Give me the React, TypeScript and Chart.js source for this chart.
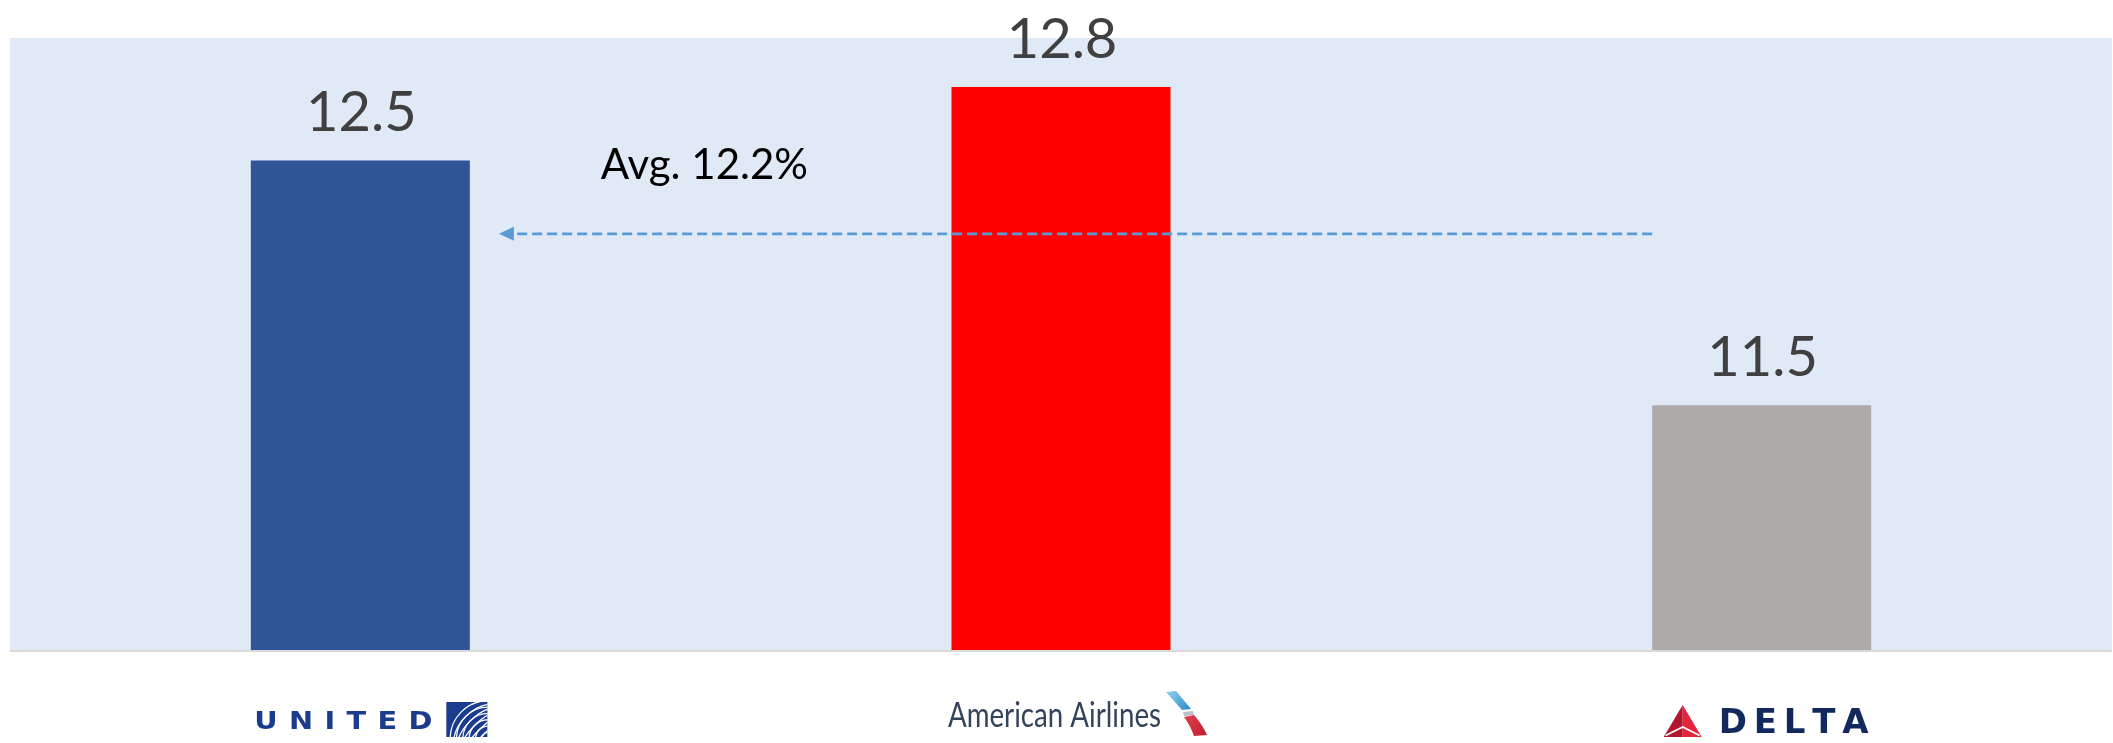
import { useEffect, useRef } from "react";
import { Chart, registerables } from "chart.js";

Chart.register(...registerables);

// Carrier figures
const carriers = ["UNITED", "American Airlines", "DELTA"];
const values = [12.5, 12.8, 11.5];
const barColors = ["#2f5597", "#ff0000", "#aeaaaa"];
const averageValue = 12.2;
const averageLabel = "Avg. 12.2%";
const yMin = 10.5;
const yMax = 13;

const WIDTH = 2113;
const HEIGHT = 743;

// Draws text with evenly distributed letter gaps so it spans totalWidth;
// stretch widens each glyph horizontally.
function drawSpaced(
  ctx: CanvasRenderingContext2D,
  text: string,
  left: number,
  baseline: number,
  totalWidth: number,
  stretch = 1
) {
  const chars = text.split("");
  const widths = chars.map((c) => ctx.measureText(c).width * stretch);
  const sum = widths.reduce((a, b) => a + b, 0);
  const gap = chars.length > 1 ? (totalWidth - sum) / (chars.length - 1) : 0;
  let x = left;
  ctx.textAlign = "left";
  chars.forEach((c, i) => {
    ctx.save();
    ctx.translate(x, baseline);
    ctx.scale(stretch, 1);
    ctx.fillText(c, 0, 0);
    ctx.restore();
    x += widths[i] + gap;
  });
}

function drawUnited(ctx: CanvasRenderingContext2D, cx: number) {
  ctx.save();
  ctx.fillStyle = "#1a3b8e";
  ctx.font = "bold 24px 'DejaVu Sans'";
  ctx.textBaseline = "alphabetic";
  drawSpaced(ctx, carriers[0], cx - 106, 729, 178, 1.2);

  // globe mark
  const sx = cx + 86;
  const sy = 702;
  const w = 41;
  const h = 35;
  ctx.fillRect(sx, sy, w, h);
  ctx.beginPath();
  ctx.rect(sx, sy, w, h);
  ctx.clip();
  const gx = sx + w * 1.02;
  const gy = sy + h * 1.05;
  const r = 38;
  ctx.strokeStyle = "#ffffff";
  ctx.lineWidth = 1.3;
  for (let k = 1; k <= 6; k++) {
    ctx.beginPath();
    ctx.arc(gx, gy, (r * k) / 6, Math.PI, Math.PI * 1.5);
    ctx.stroke();
  }
  for (let k = 1; k <= 5; k++) {
    ctx.beginPath();
    ctx.ellipse(gx, gy, r, (r * k) / 6, -Math.PI / 4, Math.PI, Math.PI * 2);
    ctx.stroke();
  }
  ctx.restore();
}

function drawAmerican(ctx: CanvasRenderingContext2D, cx: number) {
  ctx.save();
  ctx.fillStyle = "#33445a";
  ctx.font = "34px Lato";
  ctx.textAlign = "left";
  ctx.textBaseline = "alphabetic";
  ctx.fillText(carriers[1], cx - 113, 727, 213);

  const ix = cx + 105;
  const blue = ctx.createLinearGradient(ix, 692, ix + 25, 710);
  blue.addColorStop(0, "#8fd3f0");
  blue.addColorStop(1, "#2a86c8");
  ctx.fillStyle = blue;
  ctx.beginPath();
  ctx.moveTo(ix, 692);
  ctx.lineTo(ix + 10, 691);
  ctx.lineTo(ix + 25, 709);
  ctx.lineTo(ix + 16, 710);
  ctx.closePath();
  ctx.fill();

  ctx.fillStyle = "#b9c0c8";
  ctx.beginPath();
  ctx.moveTo(ix + 17, 712);
  ctx.lineTo(ix + 27, 711);
  ctx.lineTo(ix + 28, 715);
  ctx.lineTo(ix + 18, 716);
  ctx.closePath();
  ctx.fill();

  const red = ctx.createLinearGradient(ix + 18, 716, ix + 40, 735);
  red.addColorStop(0, "#e0414f");
  red.addColorStop(1, "#c41d2f");
  ctx.fillStyle = red;
  ctx.beginPath();
  ctx.moveTo(ix + 18, 717);
  ctx.lineTo(ix + 28, 715);
  ctx.quadraticCurveTo(ix + 36, 724, ix + 41, 735);
  ctx.lineTo(ix + 28, 736);
  ctx.quadraticCurveTo(ix + 24, 725, ix + 18, 717);
  ctx.closePath();
  ctx.fill();
  ctx.restore();
}

function drawDelta(ctx: CanvasRenderingContext2D, cx: number) {
  ctx.save();
  const apexX = cx - 79;
  const top = 705;
  const base = 737;
  const half = 19;
  ctx.fillStyle = "#b3162c";
  ctx.beginPath();
  ctx.moveTo(apexX, top);
  ctx.lineTo(apexX - half, base);
  ctx.lineTo(apexX, base);
  ctx.closePath();
  ctx.fill();
  ctx.fillStyle = "#e0253d";
  ctx.beginPath();
  ctx.moveTo(apexX, top);
  ctx.lineTo(apexX, base);
  ctx.lineTo(apexX + half, base);
  ctx.closePath();
  ctx.fill();
  ctx.strokeStyle = "#ffffff";
  ctx.lineWidth = 1.6;
  ctx.beginPath();
  ctx.moveTo(apexX - half + 2, base - 1.5);
  ctx.lineTo(apexX, base - 10);
  ctx.lineTo(apexX + half - 2, base - 1.5);
  ctx.stroke();

  ctx.fillStyle = "#12295d";
  ctx.font = "bold 34px 'DejaVu Sans'";
  ctx.textBaseline = "alphabetic";
  drawSpaced(ctx, carriers[2], cx - 43, 733, 150);
  ctx.restore();
}

const panelPlugin = {
  id: "panel",
  beforeDatasetsDraw(chart: any) {
    const { ctx, chartArea: a } = chart;
    ctx.save();
    ctx.fillStyle = "#dfeaf6";
    ctx.fillRect(a.left, a.top, a.right - a.left, a.bottom - a.top);
    ctx.restore();
  },
  afterDatasetsDraw(chart: any) {
    const { ctx, chartArea: a } = chart;
    const meta = chart.getDatasetMeta(0);
    const bars = meta.data as any[];
    ctx.save();

    // axis baseline
    ctx.fillStyle = "#d9d9d9";
    ctx.fillRect(a.left, a.bottom, a.right - a.left, 2);

    // value labels above bars
    ctx.font = "56px Lato";
    ctx.fillStyle = "#404040";
    ctx.textAlign = "center";
    ctx.textBaseline = "alphabetic";
    bars.forEach((bar, i) => {
      ctx.fillText(values[i].toFixed(1), bar.x + 1, bar.y - 29);
    });

    // average arrow
    const yAvg = chart.scales.y.getPixelForValue(averageValue);
    const first = bars[0];
    const last = bars[bars.length - 1];
    const tipX = first.x + first.width / 2 + 29;
    const endX = last.x - last.width / 2;
    ctx.strokeStyle = "#5b9bd5";
    ctx.lineWidth = 2.6;
    ctx.setLineDash([10, 5]);
    ctx.beginPath();
    ctx.moveTo(endX, yAvg);
    ctx.lineTo(tipX + 14, yAvg);
    ctx.stroke();
    ctx.setLineDash([]);
    ctx.fillStyle = "#5b9bd5";
    ctx.beginPath();
    ctx.moveTo(tipX, yAvg);
    ctx.lineTo(tipX + 15, yAvg - 7);
    ctx.lineTo(tipX + 15, yAvg + 7);
    ctx.closePath();
    ctx.fill();

    ctx.font = "42px Lato";
    ctx.fillStyle = "#000000";
    ctx.textAlign = "left";
    ctx.fillText(averageLabel, tipX + 102, yAvg - 55);
    ctx.restore();

    // carrier marks under the axis
    const xs = chart.scales.x;
    drawUnited(ctx, xs.getPixelForValue(0));
    drawAmerican(ctx, xs.getPixelForValue(1));
    drawDelta(ctx, xs.getPixelForValue(2));
  },
};

export default function App() {
  const canvasRef = useRef<HTMLCanvasElement | null>(null);

  useEffect(() => {
    document.body.style.margin = "0";
    const canvas = canvasRef.current;
    if (!canvas) return;
    const chart = new Chart(canvas, {
      type: "bar",
      data: {
        labels: carriers,
        datasets: [
          {
            data: values,
            backgroundColor: barColors,
            borderWidth: 0,
            barPercentage: 0.3126,
            categoryPercentage: 1,
          },
        ],
      },
      options: {
        responsive: false,
        animation: false,
        devicePixelRatio: 1,
        layout: { padding: { left: 10, top: 38, right: 1, bottom: 93 } },
        plugins: {
          legend: { display: false },
          tooltip: { enabled: false },
        },
        scales: {
          x: { display: false, offset: true },
          y: { display: false, min: yMin, max: yMax },
        },
      },
      plugins: [panelPlugin],
    });
    return () => chart.destroy();
  }, []);

  return (
    <div style={{ width: WIDTH, height: HEIGHT, background: "#ffffff" }}>
      <canvas ref={canvasRef} width={WIDTH} height={HEIGHT} style={{ display: "block", width: WIDTH, height: HEIGHT }} />
    </div>
  );
}
